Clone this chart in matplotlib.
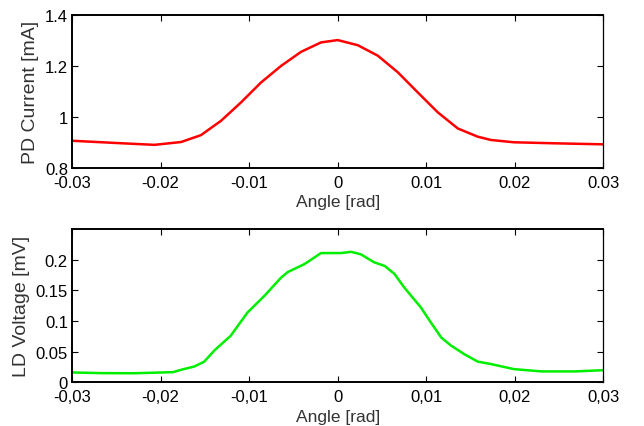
import matplotlib
matplotlib.use("Agg")
import matplotlib.pyplot as plt

# PD current (top panel)
pd_angle = [-0.03, -0.0249, -0.0207, -0.0177, -0.01545, -0.01319, -0.01093,
            -0.00867, -0.0064, -0.00415, -0.00189, 0.0, 0.00226, 0.00452,
            0.00678, 0.00904, 0.0113, 0.01356, 0.0158, 0.0173, 0.0199,
            0.0245, 0.03]
pd_current = [0.907, 0.898, 0.891, 0.902, 0.929, 0.985, 1.057,
              1.135, 1.200, 1.255, 1.292, 1.301, 1.281, 1.240,
              1.175, 1.096, 1.018, 0.955, 0.923, 0.910, 0.901,
              0.897, 0.893]

# LD voltage (bottom panel)
ld_angle = [-0.03, -0.0267, -0.023, -0.0186, -0.0177, -0.0162, -0.0151,
            -0.0139, -0.0121, -0.0102, -0.0083, -0.0064, -0.00565, -0.00377,
            -0.00189, 0.00037, 0.0015, 0.0026, 0.0041, 0.0053, 0.0064,
            0.0075, 0.0094, 0.0105, 0.0117, 0.0128, 0.0143, 0.0158, 0.0173,
            0.0199, 0.023, 0.0268, 0.03]
ld_voltage = [0.0163, 0.0152, 0.015, 0.0168, 0.0206, 0.026, 0.0337,
              0.0527, 0.076, 0.114, 0.141, 0.171, 0.180, 0.193,
              0.211, 0.211, 0.213, 0.209, 0.196, 0.190, 0.177,
              0.155, 0.122, 0.098, 0.073, 0.060, 0.046, 0.034, 0.030,
              0.0217, 0.018, 0.018, 0.020]

xticks = [-0.03, -0.02, -0.01, 0, 0.01, 0.02, 0.03]
top_xlabels = ["-0.03", "-0.02", "-0.01", "0", "0.01", "0.02", "0.03"]
bot_xlabels = ["-0,03", "-0,02", "-0,01", "0", "0,01", "0,02", "0,03"]
top_yticks = [0.8, 1.0, 1.2, 1.4]
top_ylabels = ["0.8", "1", "1.2", "1.4"]
bot_yticks = [0, 0.05, 0.1, 0.15, 0.2]
bot_ylabels = ["0", "0.05", "0.1", "0.15", "0.2"]

plt.rcParams['font.family'] = ['Liberation Sans', 'DejaVu Sans']

fig = plt.figure(figsize=(6.44, 4.27), dpi=100)
ax1 = fig.add_axes([0.112, 0.604, 0.825, 0.359])
ax2 = fig.add_axes([0.112, 0.102, 0.825, 0.359])

def style(ax):
    ax.tick_params(direction='in', top=True, right=True, length=4, width=0.8,
                   labelsize=12, pad=3)
    ax.tick_params(axis='x', pad=5)
    for side in ['left', 'bottom', 'top']:
        ax.spines[side].set_linewidth(1.4)
    ax.spines['right'].set_linewidth(0.9)

ax1.plot(pd_angle, pd_current, color='#ff0000', lw=1.8)
ax1.set_xlim(-0.03, 0.03)
ax1.set_ylim(0.8, 1.4)
ax1.set_xticks(xticks)
ax1.set_xticklabels(top_xlabels)
ax1.set_yticks(top_yticks)
ax1.set_yticklabels(top_ylabels)
ax1.set_xlabel("Angle [rad]", fontsize=12.5, labelpad=3, color='#333333')
ax1.set_ylabel("PD Current [mA]", fontsize=14, labelpad=4, color='#333333')
style(ax1)

ax2.plot(ld_angle, ld_voltage, color='#00ee00', lw=1.8)
ax2.set_xlim(-0.03, 0.03)
ax2.set_ylim(0, 0.25)
ax2.set_xticks(xticks)
ax2.set_xticklabels(bot_xlabels)
ax2.set_yticks(bot_yticks)
ax2.set_yticklabels(bot_ylabels)
ax2.set_xlabel("Angle [rad]", fontsize=12.5, labelpad=3, color='#333333')
ax2.set_ylabel("LD Voltage [mV]", fontsize=14, labelpad=4, color='#333333')
style(ax2)

fig.savefig("out.png", dpi=100)
